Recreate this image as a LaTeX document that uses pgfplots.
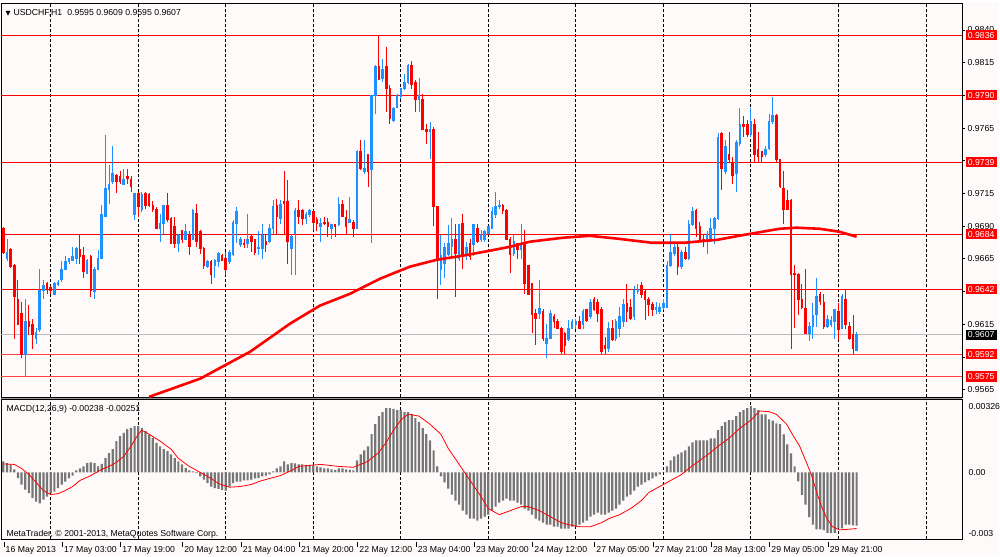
\documentclass[border=0pt]{standalone}
\usepackage{pgfplots}
\pgfplotsset{compat=1.18}
\usepackage{pgfplotstable}
\usepackage{fontspec}
\setmainfont{Liberation Sans}
\newfontfamily\dejavu{DejaVu Sans}
\definecolor{bg}{RGB}{255,250,250}
\definecolor{upc}{RGB}{30,144,255}
\definecolor{dnc}{RGB}{255,0,0}
\definecolor{macdgray}{RGB}{118,118,118}
\newcommand{\lab}{\fontsize{8.7}{10}\selectfont}
\newcommand{\tl}[1]{\rule[6pt]{0.7pt}{5pt}\hspace{1.5pt}#1}

\pgfplotstableread{
i o h l c
0 0.9688 0.9689 0.9669 0.9670
1 0.9665 0.9680 0.9663 0.9670
2 0.9672 0.9673 0.9658 0.9659
3 0.9660 0.9661 0.9604 0.9636
4 0.9634 0.9649 0.9615 0.9615
5 0.9623 0.9632 0.9589 0.9592
6 0.9592 0.9634 0.9575 0.9617
7 0.9617 0.9630 0.9607 0.9613
8 0.9615 0.9619 0.9596 0.9607
9 0.9604 0.9612 0.9600 0.9609
10 0.9611 0.9657 0.9609 0.9641
11 0.9641 0.9649 0.9634 0.9645
12 0.9646 0.9647 0.9638 0.9642
13 0.9643 0.9644 0.9638 0.9641
14 0.9638 0.9647 0.9638 0.9646
15 0.9645 0.9649 0.9644 0.9647
16 0.9649 0.9663 0.9647 0.9657
17 0.9657 0.9667 0.9657 0.9663
18 0.9663 0.9666 0.9661 0.9665
19 0.9664 0.9674 0.9663 0.9667
20 0.9665 0.9674 0.9661 0.9673
21 0.9672 0.9684 0.9661 0.9667
22 0.9668 0.9674 0.9650 0.9655
23 0.9654 0.9665 0.9654 0.9664
24 0.9667 0.9668 0.9636 0.9641
25 0.9640 0.9659 0.9634 0.9657
26 0.9657 0.9672 0.9657 0.9665
27 0.9665 0.9706 0.9665 0.9699
28 0.9697 0.9760 0.9697 0.9719
29 0.9718 0.9737 0.9707 0.9722
30 0.9724 0.9751 0.9722 0.9730
31 0.9729 0.9730 0.9715 0.9724
32 0.9728 0.9732 0.9722 0.9724
33 0.9722 0.9734 0.9722 0.9726
34 0.9728 0.9734 0.9722 0.9726
35 0.9726 0.9728 0.9716 0.9720
36 0.9699 0.9715 0.9695 0.9715
37 0.9715 0.9716 0.9697 0.9705
38 0.9703 0.9716 0.9701 0.9714
39 0.9715 0.9716 0.9703 0.9706
40 0.9714 0.9715 0.9705 0.9706
41 0.9706 0.9709 0.9701 0.9703
42 0.9703 0.9705 0.9688 0.9688
43 0.9688 0.9699 0.9678 0.9692
44 0.9692 0.9706 0.9684 0.9706
45 0.9706 0.9715 0.9693 0.9695
46 0.9696 0.9697 0.9677 0.9677
47 0.9690 0.9697 0.9673 0.9677
48 0.9677 0.9684 0.9670 0.9683
49 0.9687 0.9687 0.9677 0.9680
50 0.9680 0.9692 0.9680 0.9686
51 0.9684 0.9686 0.9668 0.9674
52 0.9680 0.9703 0.9680 0.9702
53 0.9700 0.9707 0.9674 0.9678
54 0.9686 0.9687 0.9669 0.9673
55 0.9673 0.9674 0.9657 0.9660
56 0.9659 0.9664 0.9658 0.9663
57 0.9663 0.9664 0.9646 0.9653
58 0.9660 0.9665 0.9650 0.9664
59 0.9663 0.9670 0.9659 0.9669
60 0.9668 0.9669 0.9663 0.9664
61 0.9665 0.9670 0.9653 0.9657
62 0.9663 0.9672 0.9661 0.9670
63 0.9668 0.9695 0.9667 0.9693
64 0.9692 0.9705 0.9677 0.9701
65 0.9676 0.9682 0.9674 0.9680
66 0.9677 0.9680 0.9673 0.9676
67 0.9677 0.9699 0.9673 0.9680
68 0.9682 0.9684 0.9670 0.9678
69 0.9680 0.9680 0.9668 0.9670
70 0.9673 0.9686 0.9668 0.9674
71 0.9673 0.9692 0.9665 0.9683
72 0.9678 0.9683 0.9670 0.9676
73 0.9678 0.9692 0.9677 0.9688
74 0.9688 0.9710 0.9684 0.9705
75 0.9706 0.9711 0.9684 0.9697
76 0.9696 0.9710 0.9692 0.9707
77 0.9709 0.9732 0.9683 0.9707
78 0.9709 0.9725 0.9661 0.9678
79 0.9673 0.9684 0.9653 0.9682
80 0.9684 0.9704 0.9653 0.9702
81 0.9702 0.9710 0.9692 0.9697
82 0.9702 0.9703 0.9691 0.9696
83 0.9696 0.9701 0.9692 0.9699
84 0.9699 0.9703 0.9697 0.9702
85 0.9701 0.9702 0.9687 0.9693
86 0.9695 0.9697 0.9686 0.9692
87 0.9690 0.9696 0.9678 0.9692
88 0.9693 0.9697 0.9691 0.9692
89 0.9693 0.9696 0.9682 0.9690
90 0.9688 0.9692 0.9680 0.9691
91 0.9691 0.9692 0.9682 0.9690
92 0.9691 0.9712 0.9690 0.9707
93 0.9707 0.9710 0.9697 0.9697
94 0.9697 0.9702 0.9683 0.9690
95 0.9693 0.9712 0.9693 0.9695
96 0.9693 0.9695 0.9682 0.9688
97 0.9688 0.9748 0.9688 0.9747
98 0.9747 0.9756 0.9733 0.9734
99 0.9732 0.9756 0.9730 0.9734
100 0.9745 0.9745 0.9720 0.9732
101 0.9733 0.9790 0.9677 0.9790
102 0.9790 0.9813 0.9776 0.9812
103 0.9812 0.9836 0.9802 0.9802
104 0.9803 0.9818 0.9800 0.9810
105 0.9812 0.9827 0.9777 0.9795
106 0.9795 0.9798 0.9768 0.9772
107 0.9771 0.9781 0.9770 0.9780
108 0.9781 0.9791 0.9780 0.9790
109 0.9789 0.9796 0.9787 0.9795
110 0.9795 0.9806 0.9794 0.9800
111 0.9800 0.9814 0.9799 0.9813
112 0.9813 0.9816 0.9795 0.9798
113 0.9800 0.9802 0.9777 0.9787
114 0.9787 0.9803 0.9777 0.9790
115 0.9787 0.9791 0.9764 0.9764
116 0.9764 0.9768 0.9753 0.9762
117 0.9762 0.9770 0.9741 0.9764
118 0.9764 0.9766 0.9690 0.9705
119 0.9705 0.9705 0.9634 0.9664
120 0.9657 0.9683 0.9645 0.9668
121 0.9661 0.9677 0.9650 0.9674
122 0.9668 0.9691 0.9667 0.9677
123 0.9674 0.9696 0.9667 0.9680
124 0.9680 0.9692 0.9636 0.9669
125 0.9665 0.9692 0.9663 0.9691
126 0.9692 0.9699 0.9657 0.9668
127 0.9668 0.9678 0.9664 0.9674
128 0.9677 0.9680 0.9664 0.9667
129 0.9676 0.9692 0.9667 0.9691
130 0.9688 0.9692 0.9677 0.9678
131 0.9680 0.9687 0.9678 0.9684
132 0.9680 0.9687 0.9678 0.9686
133 0.9684 0.9690 0.9684 0.9690
134 0.9688 0.9705 0.9688 0.9701
135 0.9699 0.9716 0.9696 0.9705
136 0.9705 0.9710 0.9703 0.9706
137 0.9706 0.9707 0.9699 0.9702
138 0.9702 0.9703 0.9680 0.9680
139 0.9680 0.9682 0.9654 0.9668
140 0.9669 0.9683 0.9667 0.9678
141 0.9677 0.9677 0.9665 0.9672
142 0.9672 0.9692 0.9665 0.9676
143 0.9676 0.9687 0.9638 0.9646
144 0.9660 0.9660 0.9638 0.9638
145 0.9646 0.9646 0.9608 0.9622
146 0.9623 0.9627 0.9599 0.9619
147 0.9623 0.9649 0.9619 0.9627
148 0.9625 0.9627 0.9602 0.9604
149 0.9600 0.9615 0.9589 0.9604
150 0.9604 0.9626 0.9604 0.9623
151 0.9621 0.9623 0.9612 0.9617
152 0.9617 0.9619 0.9611 0.9612
153 0.9612 0.9613 0.9592 0.9594
154 0.9608 0.9609 0.9592 0.9599
155 0.9603 0.9618 0.9602 0.9612
156 0.9612 0.9619 0.9611 0.9617
157 0.9615 0.9619 0.9611 0.9617
158 0.9617 0.9621 0.9611 0.9612
159 0.9615 0.9627 0.9611 0.9625
160 0.9626 0.9627 0.9617 0.9618
161 0.9621 0.9634 0.9619 0.9632
162 0.9634 0.9636 0.9625 0.9626
163 0.9632 0.9634 0.9617 0.9623
164 0.9626 0.9628 0.9592 0.9594
165 0.9599 0.9605 0.9592 0.9596
166 0.9596 0.9617 0.9594 0.9612
167 0.9612 0.9618 0.9602 0.9603
168 0.9604 0.9619 0.9602 0.9617
169 0.9612 0.9628 0.9605 0.9621
170 0.9617 0.9634 0.9613 0.9630
171 0.9631 0.9646 0.9617 0.9625
172 0.9628 0.9634 0.9618 0.9619
173 0.9621 0.9644 0.9618 0.9641
174 0.9640 0.9646 0.9638 0.9642
175 0.9645 0.9647 0.9635 0.9638
176 0.9640 0.9641 0.9618 0.9634
177 0.9634 0.9636 0.9621 0.9630
178 0.9630 0.9632 0.9621 0.9626
179 0.9626 0.9632 0.9623 0.9628
180 0.9625 0.9631 0.9623 0.9628
181 0.9628 0.9634 0.9626 0.9631
182 0.9628 0.9663 0.9628 0.9660
183 0.9660 0.9684 0.9659 0.9670
184 0.9669 0.9676 0.9667 0.9674
185 0.9674 0.9676 0.9653 0.9659
186 0.9659 0.9672 0.9657 0.9670
187 0.9670 0.9674 0.9664 0.9665
188 0.9665 0.9695 0.9664 0.9691
189 0.9691 0.9705 0.9690 0.9701
190 0.9702 0.9703 0.9682 0.9688
191 0.9690 0.9693 0.9678 0.9680
192 0.9680 0.9684 0.9674 0.9678
193 0.9678 0.9686 0.9669 0.9684
194 0.9680 0.9696 0.9678 0.9688
195 0.9688 0.9697 0.9676 0.9696
196 0.9696 0.9761 0.9695 0.9758
197 0.9761 0.9762 0.9718 0.9734
198 0.9732 0.9756 0.9730 0.9751
199 0.9745 0.9762 0.9739 0.9741
200 0.9739 0.9743 0.9722 0.9729
201 0.9730 0.9756 0.9716 0.9754
202 0.9753 0.9780 0.9751 0.9768
203 0.9768 0.9774 0.9758 0.9766
204 0.9768 0.9771 0.9758 0.9760
205 0.9760 0.9780 0.9758 0.9770
206 0.9768 0.9772 0.9739 0.9745
207 0.9749 0.9762 0.9739 0.9743
208 0.9747 0.9747 0.9739 0.9743
209 0.9745 0.9751 0.9743 0.9749
210 0.9749 0.9776 0.9748 0.9770
211 0.9770 0.9789 0.9768 0.9775
212 0.9775 0.9776 0.9738 0.9741
213 0.9741 0.9741 0.9719 0.9720
214 0.9719 0.9732 0.9692 0.9703
215 0.9710 0.9718 0.9702 0.9703
216 0.9710 0.9711 0.9596 0.9653
217 0.9654 0.9660 0.9612 0.9653
218 0.9653 0.9654 0.9622 0.9634
219 0.9634 0.9646 0.9627 0.9628
220 0.9627 0.9657 0.9608 0.9608
221 0.9608 0.9617 0.9602 0.9613
222 0.9613 0.9631 0.9604 0.9622
223 0.9622 0.9650 0.9613 0.9636
224 0.9638 0.9640 0.9630 0.9632
225 0.9632 0.9638 0.9611 0.9613
226 0.9613 0.9622 0.9612 0.9619
227 0.9615 0.9621 0.9613 0.9618
228 0.9617 0.9627 0.9604 0.9626
229 0.9625 0.9631 0.9603 0.9611
230 0.9612 0.9638 0.9611 0.9636
231 0.9634 0.9641 0.9611 0.9615
232 0.9613 0.9617 0.9603 0.9604
233 0.9607 0.9622 0.9592 0.9596
234 0.9595 0.9609 0.9595 0.9607
}\candles

\pgfplotstableread{
i ma
40 0.95595
54 0.95734
67.7 0.95940
78.6 0.96154
86.8 0.96292
95.1 0.96383
103.3 0.96498
111.5 0.96590
118.9 0.96643
126 0.96674
133.4 0.96712
138.9 0.96742
144.4 0.96781
153.4 0.96811
160.8 0.96826
168.5 0.96804
177.8 0.96773
186.8 0.96773
195.9 0.96796
203.3 0.96834
212.9 0.96880
217.5 0.96888
223.8 0.96880
229.3 0.96857
234 0.96819
}\matable

\pgfplotstableread{
i h
0 0.0005
1 0.00042
2 0.00036
3 0.00014
4 -0.00025
5 -0.00054
6 -0.00077
7 -0.00093
8 -0.00115
9 -0.00131
10 -0.00138
11 -0.00122
12 -0.00108
13 -0.00093
14 -0.00086
15 -0.0007
16 -0.00054
17 -0.00041
18 -0.00027
19 -0.00014
20 0.00009
21 0.00018
22 0.00027
23 0.00042
24 0.00045
25 0.00042
26 0.00027
27 0.00038
28 0.00065
29 0.00087
30 0.00104
31 0.0014
32 0.00162
33 0.00177
34 0.00194
35 0.002
36 0.00207
37 0.00207
38 0.002
39 0.00185
40 0.00169
41 0.00155
42 0.00132
43 0.00117
44 0.00104
45 0.00095
46 0.00081
47 0.00065
48 0.0005
49 0.00036
50 0.0002
51 0.00009
52 0.00005
53 -0.00003
54 -0.00018
55 -0.00032
56 -0.00048
57 -0.00063
58 -0.0007
59 -0.00074
60 -0.00078
61 -0.00081
62 -0.00063
63 -0.00048
64 -0.00041
65 -0.00041
66 -0.00036
67 -0.00036
68 -0.00032
69 -0.00027
70 -0.00025
71 -0.00018
72 -0.00014
73 -0.00009
74 0.00005
75 0.00018
76 0.00027
77 0.0005
78 0.00036
79 0.00042
80 0.00041
81 0.00036
82 0.00036
83 0.00034
84 0.00034
85 0.00032
86 0.00027
87 0.00023
88 0.00018
89 0.00018
90 0.00014
91 0.00011
92 0.00018
93 0.00018
94 0.00014
95 0.00011
96 0.00009
97 0.00054
98 0.00081
99 0.00099
100 0.00117
101 0.00171
102 0.00216
103 0.00252
104 0.0027
105 0.00288
106 0.00288
107 0.00284
108 0.00279
109 0.00279
110 0.0027
111 0.0027
112 0.00261
113 0.00243
114 0.00225
115 0.00198
116 0.00171
117 0.00144
118 0.00099
119 0.00027
120 -0.00018
121 -0.00045
122 -0.00072
123 -0.00099
124 -0.00126
125 -0.00144
126 -0.00171
127 -0.00189
128 -0.00207
129 -0.00207
130 -0.00216
131 -0.00207
132 -0.00198
133 -0.00189
134 -0.00171
135 -0.00153
136 -0.00135
137 -0.00126
138 -0.00117
139 -0.00126
140 -0.00126
141 -0.00135
142 -0.00144
143 -0.00162
144 -0.00171
145 -0.00189
146 -0.00207
147 -0.00216
148 -0.00225
149 -0.00234
150 -0.00234
151 -0.00243
152 -0.00243
153 -0.00252
154 -0.00252
155 -0.00252
156 -0.00243
157 -0.00243
158 -0.00234
159 -0.00225
160 -0.00216
161 -0.00198
162 -0.00189
163 -0.0018
164 -0.00189
165 -0.00189
166 -0.0018
167 -0.00171
168 -0.00162
169 -0.00144
170 -0.00126
171 -0.00108
172 -0.00099
173 -0.00081
174 -0.00063
175 -0.00054
176 -0.00045
177 -0.00036
178 -0.00027
179 -0.00018
180 -0.00009
181 0.00002
182 0.00027
183 0.00054
184 0.00072
185 0.00081
186 0.0009
187 0.00099
188 0.00117
189 0.00135
190 0.00144
191 0.00144
192 0.00144
193 0.00144
194 0.00153
195 0.00153
196 0.00189
197 0.00207
198 0.00225
199 0.00234
200 0.00234
201 0.00252
202 0.0027
203 0.00279
204 0.00288
205 0.00297
206 0.00288
207 0.00279
208 0.0026
209 0.0026
210 0.00238
211 0.00232
212 0.0022
213 0.00216
214 0.0017
215 0.00126
216 0.00085
217 0.00027
218 -0.0004
219 -0.001
220 -0.00144
221 -0.002
222 -0.00234
223 -0.00255
224 -0.00255
225 -0.00258
226 -0.0027
227 -0.00272
228 -0.0027
229 -0.0025
230 -0.0025
231 -0.00234
232 -0.00234
233 -0.00237
234 -0.00238
}\histtable

\pgfplotstableread{
i s
0 0.00038
3 0.00036
5 0.00018
7 -0.00009
9 -0.00045
11 -0.00081
13 -0.00099
15 -0.00095
17 -0.00081
19 -0.00063
21 -0.00036
24 -0.00014
27 0.00014
29 0.00027
31 0.00045
33 0.00072
35 0.00117
37 0.00171
38 0.00189
40 0.00171
43 0.0014
46 0.00104
48 0.00063
51 0.00027
54 0.0
57 -0.00027
59 -0.0005
62 -0.00066
65 -0.00063
68 -0.00054
70 -0.00041
73 -0.00027
76 -0.00014
79 0.00009
81 0.00027
87 0.00036
92 0.00027
96 0.00023
100 0.0005
103 0.0009
105 0.00135
107 0.00189
109 0.00234
111 0.00261
114 0.00252
117 0.00216
120 0.00171
122 0.00108
125 0.00036
128 -0.00036
131 -0.00108
133 -0.00162
136 -0.00189
139 -0.00171
142 -0.00153
144 -0.00153
147 -0.00171
150 -0.00198
153 -0.00225
155 -0.00234
158 -0.00243
161 -0.00243
164 -0.00225
166 -0.00207
169 -0.00189
172 -0.00162
175 -0.00126
177 -0.0009
180 -0.00063
183 -0.00036
186 -0.00009
188 0.00018
191 0.00054
194 0.0009
196 0.00117
199 0.00153
202 0.00198
205 0.00234
207.4 0.00275
210 0.00272
212 0.0026
214.8 0.00216
216.4 0.0017
218.4 0.00117
220.3 0.00042
221.6 -0.0001
223 -0.00086
224.4 -0.00153
225.8 -0.00205
227.4 -0.00243
229.3 -0.00257
232 -0.00254
234 -0.00251
}\sigtable

\pgfplotsset{
  candlewick/.style={draw=none, mark=none, forget plot,
    restrict y to domain=0.9:1.1,
    error bars/.cd, y dir=both, y explicit, error mark=none,
    error bar style={draw=#1, line width=0.9pt}},
  candlebody/.style={draw=none, mark=none, forget plot,
    restrict y to domain=0.9:1.1,
    error bars/.cd, y dir=both, y explicit, error mark=none,
    error bar style={draw=#1, line width=2.6pt}},
}
\tikzset{
  pricebox/.style={fill=#1, text=white, font=\lab, inner xsep=2.3pt, inner ysep=2pt,
        text height=6.3pt, text depth=0pt, anchor=west, xshift=3pt},
}

\begin{document}
\begin{tikzpicture}
\fill[bg] (0pt,0pt) rectangle (1000pt,555pt);
\fill[gray!80] (1pt,156.6pt) rectangle (963pt,159.6pt);
\begin{axis}[
  name=main, at={(1pt,159.5pt)}, anchor=south west,
  scale only axis, width=962pt, height=394.5pt,
  xmin=-0.548, xmax=263.01, ymin=0.955927, ymax=0.986062,
  clip=false,
  axis line style={black, line width=0.8pt},
  xtick={13,37,61,85,109,133,157,181,205,229,253}, xticklabels={},
  xmajorgrids,
  major grid style={black, line width=0.8pt, dash pattern=on 3pt off 2pt},
  xtick style={draw=none},
  ytick={0.9565,0.9590,0.9615,0.9640,0.9665,0.9690,0.9715,0.9740,0.9765,0.9790,0.9815,0.9840},
  yticklabels={0.9565,,0.9615,,0.9665,0.9690,0.9715,,0.9765,,0.9815,0.9840},
  yticklabel pos=right, ytick pos=right,
  ytick style={black, line width=0.7pt},
  tick align=outside, major tick length=3pt,
  yticklabel style={font=\lab, anchor=west, inner sep=0pt, xshift=2pt},
  scaled ticks=false,
]
% horizontal levels
\addplot[dnc, line width=0.8pt, forget plot] coordinates {(-0.548,0.9836) (263.01,0.9836)};
\addplot[dnc, line width=0.8pt, forget plot] coordinates {(-0.548,0.9790) (263.01,0.9790)};
\addplot[dnc, line width=0.8pt, forget plot] coordinates {(-0.548,0.9739) (263.01,0.9739)};
\addplot[dnc, line width=0.8pt, forget plot] coordinates {(-0.548,0.9684) (263.01,0.9684)};
\addplot[dnc, line width=0.8pt, forget plot] coordinates {(-0.548,0.9642) (263.01,0.9642)};
\addplot[gray!55, line width=0.8pt, forget plot] coordinates {(-0.548,0.9607) (263.01,0.9607)};
\addplot[dnc!75, line width=0.9pt, forget plot] coordinates {(-0.548,0.9592) (263.01,0.9592)};
\addplot[dnc!75, line width=0.9pt, forget plot] coordinates {(-0.548,0.9575) (263.01,0.9575)};
% wicks
\addplot[candlewick=upc] table[x=i,
  y expr={(\thisrow{c}+0.00001>\thisrow{o}) ? (0.5*(\thisrow{h}+\thisrow{l})) : 0},
  y error expr={0.5*(\thisrow{h}-\thisrow{l})}] {\candles};
\addplot[candlewick=dnc] table[x=i,
  y expr={(\thisrow{o}>\thisrow{c}+0.00001) ? (0.5*(\thisrow{h}+\thisrow{l})) : 0},
  y error expr={0.5*(\thisrow{h}-\thisrow{l})}] {\candles};
% bodies
\addplot[candlebody=upc] table[x=i,
  y expr={(\thisrow{c}+0.00001>\thisrow{o}) ? (0.5*(\thisrow{o}+\thisrow{c})) : 0},
  y error expr={0.5*abs(\thisrow{c}-\thisrow{o})+0.00003}] {\candles};
\addplot[candlebody=dnc] table[x=i,
  y expr={(\thisrow{o}>\thisrow{c}+0.00001) ? (0.5*(\thisrow{o}+\thisrow{c})) : 0},
  y error expr={0.5*abs(\thisrow{c}-\thisrow{o})+0.00003}] {\candles};
% moving average
\addplot[dnc, line width=2.6pt, forget plot] table[x=i, y=ma] {\matable};
% price boxes
\node[pricebox=dnc] at (axis cs:263.01,0.9836) {0.9836};
\node[pricebox=dnc] at (axis cs:263.01,0.9790) {0.9790};
\node[pricebox=dnc] at (axis cs:263.01,0.9739) {0.9739};
\node[pricebox=dnc] at (axis cs:263.01,0.9684) {0.9684};
\node[pricebox=dnc] at (axis cs:263.01,0.9642) {0.9642};
\node[pricebox=black] at (axis cs:263.01,0.9607) {0.9607};
\node[pricebox=dnc] at (axis cs:263.01,0.9592) {0.9592};
\node[pricebox=dnc] at (axis cs:263.01,0.9575) {0.9575};
\end{axis}

\begin{axis}[
  name=macd, at={(1pt,17pt)}, anchor=south west,
  scale only axis, width=962pt, height=140pt,
  xmin=-0.548, xmax=263.01, ymin=-0.0030, ymax=0.00326,
  axis line style={black, line width=0.8pt},
  xtick={13,37,61,85,109,133,157,181,205,229,253}, xticklabels={},
  xmajorgrids,
  major grid style={black, line width=0.8pt, dash pattern=on 3pt off 2pt},
  xtick style={draw=none},
  extra x ticks={0,16,32,49,65,81,97,113,129,145,162,178,194,210,226},
  extra x tick labels={\tl{16 May 2013},\tl{17 May 03:00},\tl{17 May 19:00},\tl{20 May 12:00},\tl{21 May 04:00},\tl{21 May 20:00},\tl{22 May 12:00},\tl{23 May 04:00},\tl{23 May 20:00},\tl{24 May 12:00},\tl{27 May 05:00},\tl{27 May 21:00},\tl{28 May 13:00},\tl{29 May 05:00},\tl{29 May 21:00}},
  extra x tick style={grid=none, major tick length=0pt,
     xticklabel style={anchor=north west, font=\lab, inner sep=0pt, yshift=-2pt}},
  ytick={-0.0030,0,0.00326},
  yticklabels={\raisebox{2.6pt}{-0.003},\raisebox{-3.2pt}{0.00},\raisebox{-9.6pt}{0.00326}},
  yticklabel pos=right, ytick pos=right,
  ytick style={draw=none},
  tick align=outside, major tick length=3pt,
  yticklabel style={font=\lab, anchor=base west, inner sep=0pt, xshift=3pt},
  scaled ticks=false,
]
\addplot[ybar, bar width=2.2pt, bar shift=0pt, fill=macdgray, draw=none] table[x=i, y=h] {\histtable};
\addplot[dnc, line width=0.8pt] table[x=i, y=s] {\sigtable};
\end{axis}

% texts
\node[anchor=base west, font=\lab, inner sep=0pt] at (5pt,541.5pt)
  {{\dejavu\fontsize{6.5}{8}\selectfont ▼}\hspace{3pt}USDCHF,H1\hspace{5pt}0.9595 0.9609 0.9595 0.9607};
\node[anchor=base west, font=\lab, inner sep=0pt] at (6pt,145pt)
  {MACD(12,26,9) -0.00238 -0.00251};
\node[anchor=base west, font=\lab, inner sep=0pt] at (6pt,20pt)
  {MetaTrader, © 2001-2013, MetaQuotes Software Corp.};
\end{tikzpicture}
\end{document}
